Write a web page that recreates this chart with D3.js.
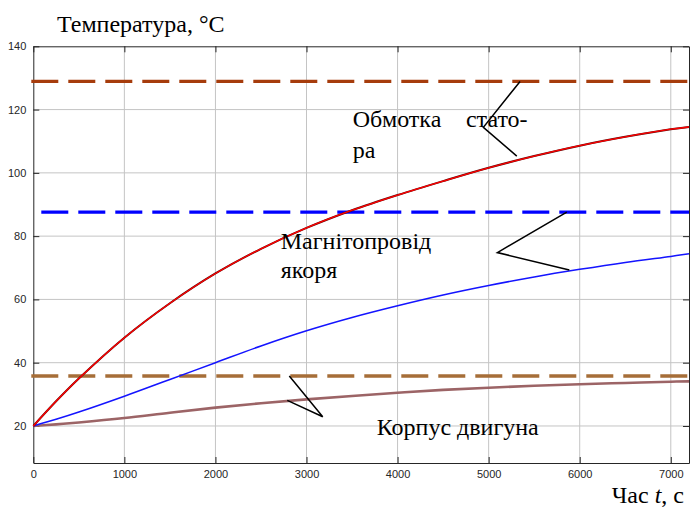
<!DOCTYPE html>
<html>
<head>
<meta charset="utf-8">
<script src="https://cdn.jsdelivr.net/npm/d3@7"></script>
<style>
  html, body { margin: 0; padding: 0; background: #fff; }
  svg { display: block; }
  .serif { font-family: "Liberation Serif", "Times New Roman", "DejaVu Serif", serif; }
</style>
</head>
<body>
<svg id="chart" width="690" height="507"></svg>
<script>
// Heating of the motor parts over time, °C
const times    = [0, 250, 500, 1000, 1500, 2000, 2500, 3000, 3500, 4000, 4500, 5000, 5500, 6000, 6500, 7000, 7200];
const stator   = [20, 27.8, 35.0, 47.9, 58.8, 68.2, 76.0, 82.6, 88.2, 93.0, 97.4, 101.6, 105.3, 108.6, 111.4, 113.8, 114.5];
const armature = [20, 22.1, 24.4, 29.4, 34.7, 40.0, 45.3, 50.1, 54.3, 58.0, 61.4, 64.4, 67.1, 69.5, 71.7, 73.6, 74.4];
const housing  = [20, 20.5, 21.1, 22.5, 24.2, 25.8, 27.2, 28.4, 29.5, 30.5, 31.4, 32.1, 32.7, 33.2, 33.6, 34.0, 34.1];

// Steady-state temperatures (dashed levels)
const steadyLevels = [128.9, 87.6, 35.8];

const xTicks = [0, 1000, 2000, 3000, 4000, 5000, 6000, 7000];
const yTicks = [20, 40, 60, 80, 100, 120, 140];

(function () {
const svg = d3.select("#chart");
const plotLeft = 33.3, plotRight = 689, plotTop = 46.3, plotBottom = 463;

const x = d3.scaleLinear().domain([0, 7200]).range([plotLeft, plotRight]);
const y = d3.scaleLinear().domain([8.3, 140]).range([plotBottom, plotTop]);

// grid
const grid = svg.append("g");
grid.selectAll("line.vx").data(xTicks.filter(d => d > 0)).join("line")
  .attr("x1", d => x(d)).attr("x2", d => x(d))
  .attr("y1", plotTop).attr("y2", plotBottom)
  .attr("stroke", "#c4c4c4").attr("stroke-width", 1);
grid.selectAll("line.hy").data(yTicks.filter(d => d < 140)).join("line")
  .attr("x1", plotLeft).attr("x2", plotRight)
  .attr("y1", d => y(d)).attr("y2", d => y(d))
  .attr("stroke", "#c4c4c4").attr("stroke-width", 1);

// axes (ticks pointing inward on all four sides)
const axisStyle = g => {
  g.select(".domain").attr("stroke", "#262626");
  g.selectAll(".tick line").attr("stroke", "#262626");
  g.selectAll(".tick text").attr("fill", "#262626")
    .attr("font-family", "Liberation Sans, Arial, sans-serif").attr("font-size", 11);
};
svg.append("g").attr("transform", `translate(0,${plotBottom})`)
  .call(d3.axisBottom(x).tickValues(xTicks).tickSizeInner(-6).tickSizeOuter(0).tickPadding(7).tickFormat(d3.format("d")))
  .call(axisStyle);
svg.append("g").attr("transform", `translate(${plotLeft},0)`)
  .call(d3.axisLeft(y).tickValues(yTicks).tickSizeInner(-6).tickSizeOuter(0).tickPadding(7).tickFormat(d3.format("d")))
  .call(axisStyle);
svg.append("g").attr("transform", `translate(0,${plotTop})`)
  .call(d3.axisTop(x).tickValues(xTicks).tickSizeInner(-6).tickSizeOuter(0).tickFormat(""))
  .call(axisStyle);
svg.append("g").attr("transform", `translate(${plotRight},0)`)
  .call(d3.axisRight(y).tickValues(yTicks).tickSizeInner(-6).tickSizeOuter(0).tickFormat(""))
  .call(axisStyle);

// dashed steady-state levels
const dashColors = ["#a63c0c", "#0000ff", "#a66e38"];
const dashOffsets = [0, -10, 0];
svg.append("g").selectAll("line").data(steadyLevels).join("line")
  .attr("x1", plotLeft - 2).attr("x2", plotRight)
  .attr("y1", d => y(d)).attr("y2", d => y(d))
  .attr("stroke", (d, i) => dashColors[i])
  .attr("stroke-width", 3.4)
  .attr("stroke-dasharray", "27,10")
  .attr("stroke-dashoffset", (d, i) => dashOffsets[i]);

// curves
const line = d3.line().x(d => x(d[0])).y(d => y(d[1])).curve(d3.curveCatmullRom.alpha(0.5));
const zip = vals => times.map((t, i) => [t, vals[i]]);

svg.append("path").datum(zip(housing)).attr("d", line)
  .attr("fill", "none").attr("stroke", "#9c6466").attr("stroke-width", 2.6);
svg.append("path").datum(zip(armature)).attr("d", line)
  .attr("fill", "none").attr("stroke", "#1414ff").attr("stroke-width", 1.5);
svg.append("path").datum(zip(stator)).attr("d", line)
  .attr("fill", "none").attr("stroke", "#5a0a0a").attr("stroke-width", 2.0);
svg.append("path").datum(zip(stator)).attr("d", line)
  .attr("fill", "none").attr("stroke", "#ff0000").attr("stroke-width", 1.3);

// leader lines for the labels (data coordinates)
const leaders = [
  [[5345, 128.9], [4942, 114.4], [5309, 105.3]],
  [[5858, 87.6], [5096, 74.8], [5886, 69.3]],
  [[2811, 35.8], [3178, 22.9], [2789, 28.1]]
];
svg.append("g").selectAll("path").data(leaders).join("path")
  .attr("d", d3.line().x(d => x(d[0])).y(d => y(d[1])))
  .attr("fill", "none").attr("stroke", "#000").attr("stroke-width", 1.5);

// text labels
const label = (t, v, txt) => svg.append("text").attr("class", "serif")
  .attr("x", x(t)).attr("y", y(v))
  .attr("font-size", 24).attr("fill", "#000").text(txt);

label(3507, 114.4, "Обмотка");
label(4751, 114.4, "стато-");
label(3507, 104.6, "ра");
label(2717, 75.8, "Магнітопровід");
label(2717, 66.9, "якоря");
label(3771, 17.2, "Корпус двигуна");

// axis titles
svg.append("text").attr("class", "serif").attr("x", 57).attr("y", 32)
  .attr("font-size", 24).attr("fill", "#000")
  .text("Температура, °C");

const xt = svg.append("text").attr("class", "serif").attr("x", 684).attr("y", 502.5).attr("text-anchor", "end")
  .attr("font-size", 24).attr("fill", "#000");
xt.append("tspan").text("Час ");
xt.append("tspan").attr("font-style", "italic").text("t");
xt.append("tspan").text(", с");
})();
</script>
</body>
</html>
